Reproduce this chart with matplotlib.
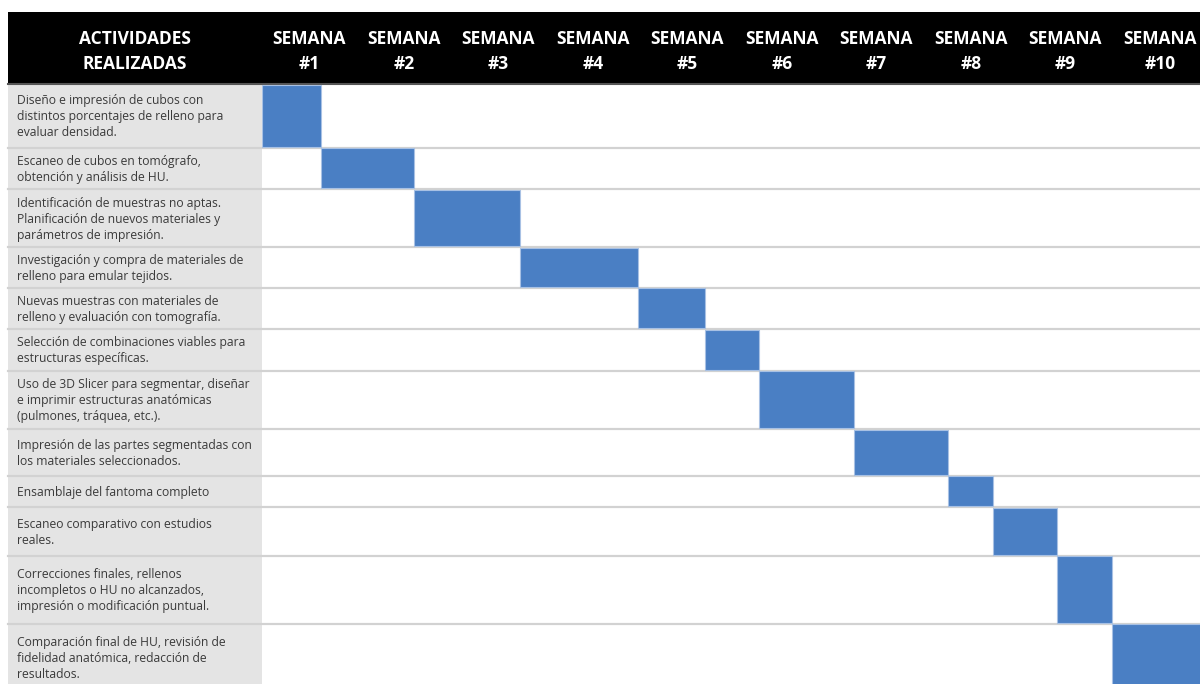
import matplotlib.pyplot as plt
from matplotlib.patches import Rectangle

plt.rcParams["font.family"] = ["Open Sans", "DejaVu Sans"]

# Data
header_left = "ACTIVIDADES\nREALIZADAS"
week_labels = ["SEMANA\n#1", "SEMANA\n#2", "SEMANA\n#3", "SEMANA\n#4", "SEMANA\n#5",
               "SEMANA\n#6", "SEMANA\n#7", "SEMANA\n#8", "SEMANA\n#9", "SEMANA\n#10"]
activities = [
    "Diseño e impresión de cubos con\ndistintos porcentajes de relleno para\nevaluar densidad.",
    "Escaneo de cubos en tomógrafo,\nobtención y análisis de HU.",
    "Identificación de muestras no aptas.\nPlanificación de nuevos materiales y\nparámetros de impresión.",
    "Investigación y compra de materiales de\nrelleno para emular tejidos.",
    "Nuevas muestras con materiales de\nrelleno y evaluación con tomografía.",
    "Selección de combinaciones viables para\nestructuras específicas.",
    "Uso de 3D Slicer para segmentar, diseñar\ne imprimir estructuras anatómicas\n(pulmones, tráquea, etc.).",
    "Impresión de las partes segmentadas con\nlos materiales seleccionados.",
    "Ensamblaje del fantoma completo",
    "Escaneo comparativo con estudios\nreales.",
    "Correcciones finales, rellenos\nincompletos o HU no alcanzados,\nimpresión o modificación puntual.",
    "Comparación final de HU, revisión de\nfidelidad anatómica, redacción de\nresultados.",
]
start_week = [0.00, 0.62, 1.61, 2.73, 3.98, 4.69, 5.26, 6.26, 7.26, 7.74, 8.41, 8.99]
end_week = [0.62, 1.61, 2.73, 3.98, 4.69, 5.26, 6.26, 7.26, 7.74, 8.41, 8.99, 10.00]

# Layout (pixels)
W, H = 1200, 684
left_x, col_x, head_top, head_bot = 8, 262, 12, 84
week_px = 94.5
row_edges = [84, 147.5, 189, 247, 287.5, 329, 370.5, 429, 475.5, 507, 555.5, 623.5, 692]
bar_color = "#4a7fc4"

fig = plt.figure(figsize=(W / 100, H / 100), dpi=100)
ax = fig.add_axes([0, 0, 1, 1])
ax.set_xlim(0, W)
ax.set_ylim(H, 0)
ax.axis("off")

# header band
ax.add_patch(Rectangle((left_x, head_top), W - left_x, head_bot - head_top,
                       facecolor="black", edgecolor="none", zorder=1))
ax.plot([left_x, W], [head_bot, head_bot], color="#555555", lw=1.5, zorder=2)
ax.text((left_x + col_x) / 2, (head_top + head_bot) / 2 + 3.5, header_left,
        ha="center", va="center", color="white", fontsize=12.5,
        fontweight="bold", linespacing=1.45, zorder=3)

# grey label column
ax.add_patch(Rectangle((left_x, head_bot), col_x - left_x, H - head_bot,
                       facecolor="#e4e4e4", edgecolor="none", zorder=1))

# row separators and labels
for i, label in enumerate(activities):
    top, bot = row_edges[i], row_edges[i + 1]
    ax.text(17, (top + bot) / 2 + 1, label, ha="left", va="center",
            color="#3a3a3a", fontsize=8.7, linespacing=1.3, zorder=3)
    if i > 0:
        ax.plot([left_x, W], [top, top], color="#d2d2d2", lw=1.6, zorder=2)

# gantt axes in week units
gx = fig.add_axes([col_x / W, 0, 10 * week_px / W, 1])
gx.set_xlim(0, 10)
gx.set_ylim(H, 0)
gx.axis("off")
gx.patch.set_alpha(0)

centers = [(row_edges[i] + row_edges[i + 1]) / 2 for i in range(len(activities))]
heights = [row_edges[i + 1] - row_edges[i] - 1.5 for i in range(len(activities))]
widths = [e - s for s, e in zip(start_week, end_week)]
gx.barh(centers, widths, left=start_week, height=heights, color=bar_color,
        edgecolor="#a8c1e4", linewidth=0.8, zorder=3)

for i, wl in enumerate(week_labels):
    gx.text(i + 0.5, (head_top + head_bot) / 2 + 3.5, wl, ha="center", va="center",
            color="white", fontsize=12.5, fontweight="bold", linespacing=1.45,
            clip_on=False)

plt.savefig("out.png", dpi=100)
plt.close()
